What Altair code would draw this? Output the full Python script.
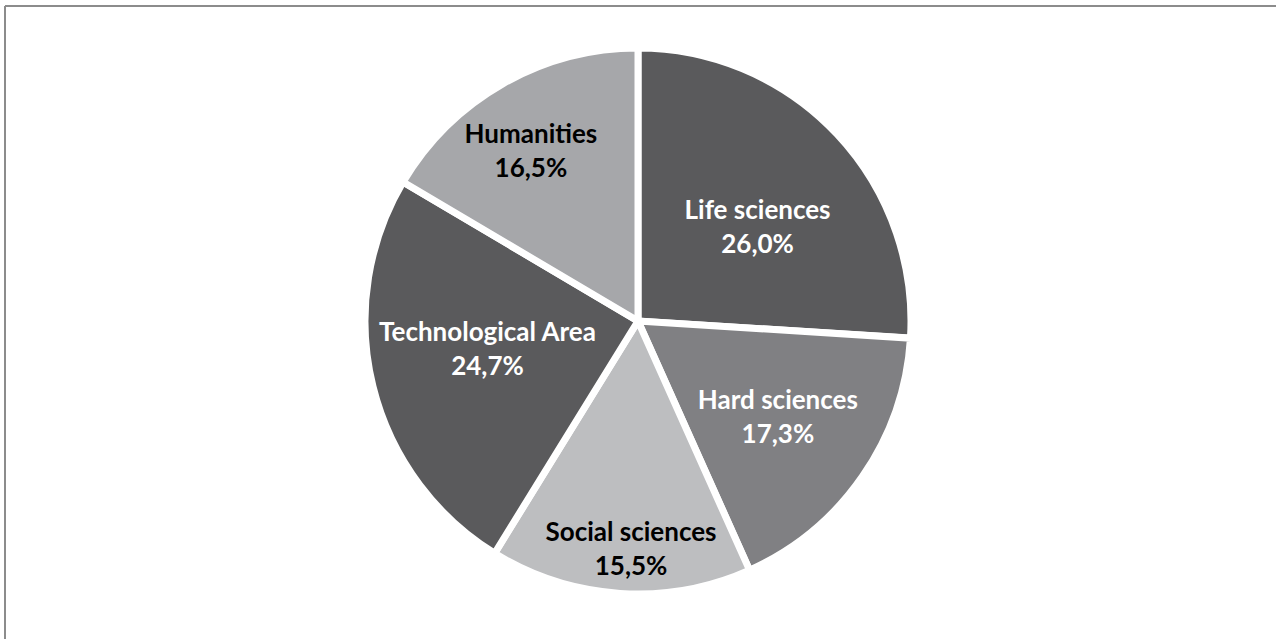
import math
import altair as alt
import pandas as pd

categories = ["Life sciences", "Hard sciences", "Social sciences", "Technological Area", "Humanities"]
values = [26.0, 17.3, 15.5, 24.7, 16.5]
colors = ["#5a5a5c", "#808083", "#bdbec0", "#5a5a5c", "#a6a7aa"]
text_colors = ["white", "white", "black", "white", "black"]

df = pd.DataFrame({
    "cat": categories,
    "value": values,
    "order": list(range(len(categories))),
    "label": [f"{c}\n{v:.1f}%".replace(".", ",") for c, v in zip(categories, values)],
})

W, H = 1271, 633
CX, CY = 633, 315  # pie centre inside the view
R = 273
LH = 34

base = alt.Chart(df)

pie = base.mark_arc(stroke="white", strokeWidth=7, outerRadius=R).encode(
    theta=alt.Theta("value:Q", stack=True),
    order=alt.Order("order:Q"),
    color=alt.Color("cat:N", scale=alt.Scale(domain=categories, range=colors), legend=None),
    x=alt.value(CX),
    y=alt.value(CY),
)

# label placement: (radius, dx, dy)
placement = {
    "Life sciences": (153, 8, 12),
    "Hard sciences": (169, 1, 1),
    "Social sciences": (227, 8, 2),
    "Technological Area": (153, -2, -8),
    "Humanities": (200, -8, 5),
}

layers = [pie]
for cat, tc in zip(categories, text_colors):
    r, dx, dy = placement[cat]
    t = base.transform_joinaggregate(total="sum(value)").transform_window(
        cum="sum(value)", sort=[alt.SortField("order")]
    ).transform_calculate(
        mid="(datum.cum - datum.value/2) / datum.total"
    ).transform_filter(
        alt.datum.cat == cat
    ).mark_text(
        font="Lato", fontSize=26, fontWeight="bold", color=tc,
        lineBreak="\n", lineHeight=LH, align="center", baseline="middle",
        radius=r, dx=dx, dy=dy - LH / 2,
    ).encode(
        theta=alt.Theta("mid:Q", stack=None, scale=alt.Scale(domain=[0, 1], range=[0, 2 * math.pi])),
        text="label:N",
        x=alt.value(CX),
        y=alt.value(CY),
    )
    layers.append(t)

border_top = base.mark_rule(color="#8c8c8c", strokeWidth=2).encode(
    x=alt.value(0), x2=alt.value(W), y=alt.value(0)
)
border_left = base.mark_rule(color="#8c8c8c", strokeWidth=2).encode(
    x=alt.value(0), y=alt.value(0), y2=alt.value(H)
)
layers += [border_top, border_left]

chart = alt.layer(*layers).resolve_scale(theta="independent").properties(
    width=W, height=H,
    autosize=alt.AutoSizeParams(type="none"),
    padding={"left": 5, "top": 6, "right": 0, "bottom": 0},
    background="white",
).configure_view(stroke=None)

chart.save("out.html", embed_options={"renderer": "svg", "actions": False})
